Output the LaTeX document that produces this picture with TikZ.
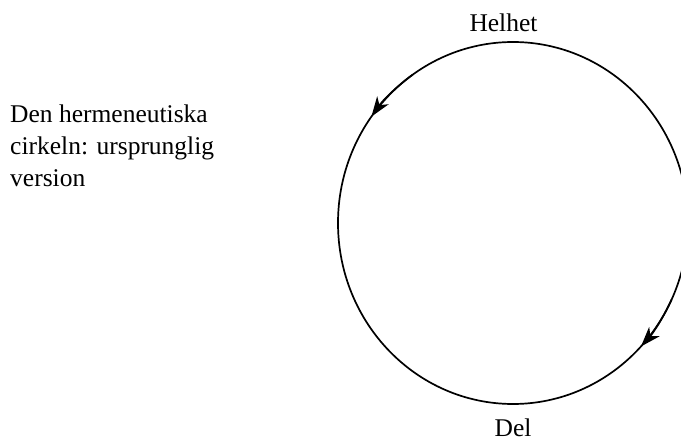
\documentclass[tikz,border=0pt]{standalone}
\usepackage{fontspec}
\setmainfont{Liberation Serif}
\usetikzlibrary{arrows.meta,calc}
\begin{document}
\begin{tikzpicture}[x=1pt,y=-1pt,
  lbl/.style={inner sep=0pt,font=\fontsize{25.5}{32}\selectfont},
  ring/.style={line width=1.7pt},
  arr/.style={line width=1.7pt,-{Stealth[length=20pt,width=14pt,inset=6pt]}}]
\useasboundingbox (0,0) rectangle (681,441);
\clip (0,0) rectangle (681,441);
\coordinate (c) at (513,223);
\draw[ring] (c) ellipse [x radius=175, y radius=181];
\draw[arr] ($(c)+(125:175 and -181)$) arc [start angle=125,end angle=144,x radius=175,y radius=-181];
\draw[arr] ($(c)+(-25:175 and -181)$) arc [start angle=-25,end angle=-43,x radius=175,y radius=-181];
\node[lbl,anchor=base] (helhet) at (503.5,31.5) {Helhet};
\node[lbl,anchor=base] (del) at (513,436) {Del};
\node[lbl,anchor=base west] (l1) at (10,123) {Den hermeneutiska};
\node[lbl,anchor=base west] (l2) at (10,155) {cirkeln: ursprunglig};
\node[lbl,anchor=base west] (l3) at (10,187) {version};
\end{tikzpicture}
\end{document}
